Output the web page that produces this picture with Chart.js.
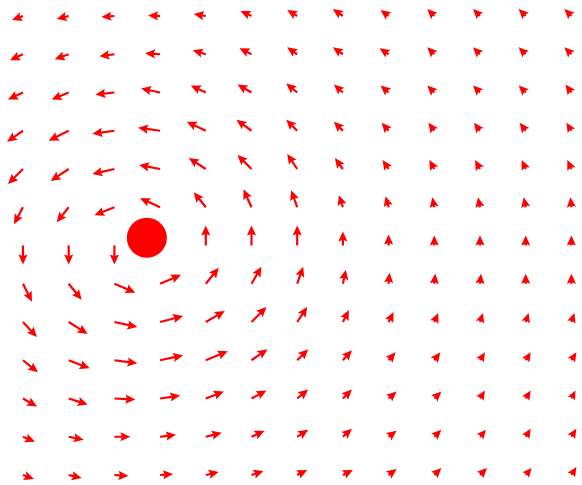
<!DOCTYPE html>
<html>
<head>
<meta charset="utf-8">
<script src="https://cdn.jsdelivr.net/npm/chart.js@4.4.1/dist/chart.umd.min.js"></script>
<style>
  html, body { margin: 0; padding: 0; background: #ffffff; }
  #wrap { width: 582px; height: 485px; }
</style>
</head>
<body>
<div id="wrap"><canvas id="field" width="582" height="485"></canvas></div>
<script>
// Grid of arrow tails (data units), top row first
const gridX = [0, 1, 2, 3, 4, 5, 6, 7, 8, 9, 10, 11, 12];
const gridY = [12, 11, 10, 9, 8, 7, 6, 5, 4, 3, 2, 1, 0];

// Horizontal component of each arrow, one list per row (top to bottom)
const U = [
  [-1.1, -1.2, -1.3, -1.2, -1.2, -1.1, -1.0, -1.0, -0.8, -0.7, -0.7, -0.7, -0.7],
  [-1.3, -1.4, -1.5, -1.5, -1.3, -1.2, -1.0, -1.0, -0.9, -0.7, -0.7, -0.7, -0.7],
  [-1.5, -1.7, -1.9, -1.9, -1.5, -1.4, -1.1, -0.9, -0.8, -0.7, -0.7, -0.7, -0.6],
  [-1.6, -2.0, -2.2, -2.2, -1.9, -1.5, -1.1, -0.9, -0.7, -0.6, -0.6, -0.6, -0.5],
  [-1.5, -1.8, -2.2, -2.1, -1.7, -1.4, -1.0, -0.8, -0.6, -0.5, -0.5, -0.4, -0.4],
  [-0.9, -1.2, -2.0, -2.0, -1.2, -0.8, -0.6, -0.4, -0.3, -0.2, -0.2, -0.2, -0.1],
  [ 0.0,  0.0,  0.0,  0.0,  0.0,  0.0,  0.0,  0.0,  0.0,  0.0,  0.0,  0.0,  0.0],
  [ 0.9,  1.3,  2.1,  2.1,  1.3,  1.0,  0.6,  0.3,  0.1,  0.1,  0.1,  0.0,  0.0],
  [ 1.4,  1.9,  2.3,  2.3,  1.9,  1.5,  1.0,  0.6,  0.5,  0.4,  0.3,  0.3,  0.3],
  [ 1.5,  2.1,  2.3,  2.3,  2.2,  1.6,  1.1,  0.9,  0.7,  0.6,  0.5,  0.5,  0.5],
  [ 1.4,  1.9,  2.1,  2.0,  1.8,  1.5,  1.1,  0.9,  0.8,  0.7,  0.5,  0.5,  0.4],
  [ 1.2,  1.5,  1.6,  1.6,  1.6,  1.3,  1.1,  0.9,  0.8,  0.7,  0.6,  0.5,  0.5],
  [ 1.1,  1.3,  1.4,  1.3,  1.3,  1.2,  1.0,  1.0,  0.8,  0.7,  0.7,  0.6,  0.5]
];

// Vertical component of each arrow (positive = up), same layout as U
const V = [
  [-0.4, -0.3, -0.1,  0.05, 0.2,  0.5,  0.6,  0.7,  0.6,  0.7,  0.7,  0.7,  0.7],
  [-0.6, -0.5, -0.2,  0.1,  0.4,  0.6,  0.7,  0.7,  0.6,  0.7,  0.7,  0.7,  0.7],
  [-0.7, -0.7, -0.2,  0.4,  0.7,  0.8,  0.9,  0.8,  0.7,  0.7,  0.7,  0.7,  0.8],
  [-1.1, -1.0, -0.3,  0.3,  0.9,  1.1,  1.1,  0.9,  0.8,  0.8,  0.8,  0.8,  0.8],
  [-1.5, -1.2, -0.5,  0.4,  1.1,  1.4,  1.5,  1.1,  0.9,  0.9,  0.9,  0.9,  0.9],
  [-1.7, -1.5, -0.8,  0.9,  1.5,  1.8,  1.7,  1.2,  1.1,  1.0,  1.0,  1.0,  1.0],
  [-1.9, -1.9, -1.9,  0.0,  2.0,  2.0,  2.0,  1.4,  1.1,  1.0,  1.0,  1.0,  1.0],
  [-1.8, -1.6, -0.9,  0.9,  1.6,  1.7,  1.7,  1.4,  1.1,  1.0,  1.0,  1.0,  1.0],
  [-1.5, -1.2, -0.5,  0.6,  1.1,  1.5,  1.5,  1.2,  1.0,  0.9,  0.9,  0.9,  0.9],
  [-1.2, -0.8, -0.3,  0.5,  0.9,  1.1,  1.1,  1.0,  0.8,  0.8,  0.8,  0.8,  0.8],
  [-0.8, -0.6, -0.1,  0.3,  0.7,  0.8,  0.9,  0.9,  0.7,  0.7,  0.8,  0.8,  0.8],
  [-0.5, -0.3,  0.0,  0.2,  0.4,  0.6,  0.7,  0.8,  0.6,  0.7,  0.7,  0.8,  0.8],
  [-0.4, -0.3, -0.1,  0.1,  0.3,  0.4,  0.5,  0.5,  0.6,  0.7,  0.7,  0.7,  0.8]
];

// Location of the vortex core marker
const coreX = [2.71];
const coreY = [6.2];

// Quiver drawing settings
const ARROW_COLOR = '#ff0000';
const PX_PER_UNIT = 10;     // arrow length in pixels per unit of (U, V)
const SHAFT = 2.2;         // shaft width
const HEAD_LEN = 10;       // tip to barb distance along the axis
const HEAD_AXIS = 8.7;     // tip to notch distance along the axis
const HEAD_HALF = 4.6;     // half width of the head

function drawArrow(ctx, x0, y0, dx, dy) {
  const L = Math.hypot(dx, dy);
  if (L < 0.5) return;
  const ux = dx / L, uy = dy / L;
  const px = -uy, py = ux;
  const k = L < HEAD_LEN ? L / HEAD_LEN : 1;
  const hl = HEAD_LEN * k, ha = HEAD_AXIS * k, hw = HEAD_HALF * k, sw = SHAFT / 2 * k;
  const tx = x0 + dx, ty = y0 + dy;
  ctx.beginPath();
  ctx.moveTo(x0 + px * sw, y0 + py * sw);
  ctx.lineTo(tx - ux * ha + px * sw, ty - uy * ha + py * sw);
  ctx.lineTo(tx - ux * hl + px * hw, ty - uy * hl + py * hw);
  ctx.lineTo(tx, ty);
  ctx.lineTo(tx - ux * hl - px * hw, ty - uy * hl - py * hw);
  ctx.lineTo(tx - ux * ha - px * sw, ty - uy * ha - py * sw);
  ctx.lineTo(x0 - px * sw, y0 - py * sw);
  ctx.closePath();
  ctx.fill();
}

const quiverPlugin = {
  id: 'quiver',
  beforeDatasetsDraw(chart) {
    const { ctx, scales } = chart;
    ctx.save();
    ctx.fillStyle = ARROW_COLOR;
    gridY.forEach((gy, r) => {
      gridX.forEach((gx, c) => {
        const x0 = scales.x.getPixelForValue(gx);
        const y0 = scales.y.getPixelForValue(gy);
        drawArrow(ctx, x0, y0, U[r][c] * PX_PER_UNIT, -V[r][c] * PX_PER_UNIT);
      });
    });
    ctx.restore();
  }
};

new Chart(document.getElementById('field'), {
  type: 'scatter',
  data: {
    datasets: [{
      label: 'core',
      data: coreX.map((x, i) => ({ x, y: coreY[i] })),
      pointRadius: 20,
      pointHoverRadius: 20,
      pointBackgroundColor: '#ff0000',
      pointBorderWidth: 0,
      pointBorderColor: '#ff0000'
    }]
  },
  options: {
    responsive: false,
    animation: false,
    devicePixelRatio: 1,
    layout: { padding: 0, autoPadding: false },
    plugins: { legend: { display: false }, tooltip: { enabled: false } },
    events: [],
    scales: {
      x: { type: 'linear', display: false, min: -0.503, max: 12.232 },
      y: { type: 'linear', display: false, min: -0.261, max: 12.418 }
    }
  },
  plugins: [quiverPlugin]
});
</script>
</body>
</html>
